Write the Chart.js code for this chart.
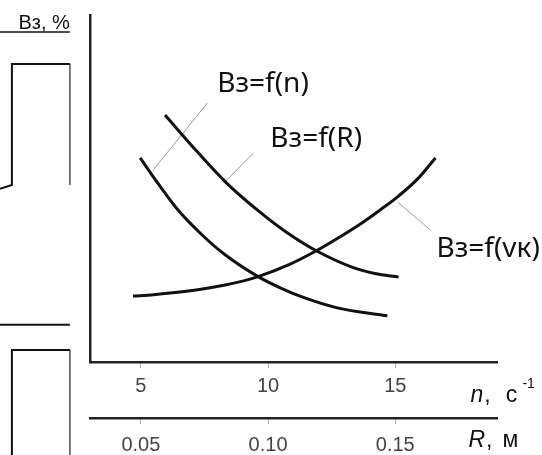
<!DOCTYPE html>
<html lang="ru">
<head>
<meta charset="UTF-8">
<title>Вз = f(n), f(R), f(vк)</title>
<script src="https://cdn.jsdelivr.net/npm/chart.js"></script>
<style>
  html, body { margin: 0; padding: 0; background: #fff; }
</style>
</head>
<body>
<canvas id="myChart" width="542" height="455"></canvas>
<script>
// ось n, с^-1 и ось R, м (R = n / 100, шкалы совпадают)
const nTicks = [5, 10, 15];
const rTicks = [0.05, 0.10, 0.15];

// Вз, % (условные единицы 0..100)
// Вз = f(n)
const curveN_n = [4.97, 5.68, 6.46, 7.41, 8.31, 9.61, 10.50, 11.39, 12.72, 14.69];
const curveN_b = [58.8, 51.4, 43.8, 36.6, 30.9, 24.6, 21.3, 18.6, 15.6, 13.3];
// Вз = f(R), R в метрах
const curveR_r = [0.0595, 0.0702, 0.0831, 0.0961, 0.1068, 0.1186, 0.1335, 0.1420, 0.1513];
const curveR_b = [71.2, 62.2, 52.0, 43.6, 37.6, 32.2, 27.2, 25.5, 24.5];
// Вз = f(vк)
const curveV_n = [4.69, 5.5, 6.35, 7.3, 8.31, 9.0, 9.61, 10.87, 11.86, 12.72, 13.63, 14.42, 15.09, 15.87, 16.58];
const curveV_b = [19.0, 19.4, 20.0, 20.9, 22.2, 23.3, 24.6, 28.2, 31.9, 35.6, 39.8, 43.9, 47.6, 52.7, 58.8];

// выноски к подписям: [n, Вз] начало и конец
const leaderN = [[7.61, 74.6], [5.48, 55.3]];
const leaderR = [[9.42, 60.2], [8.31, 51.9]];
const leaderV = [[15.09, 46.1], [16.39, 38.0]];

// кусок соседнего рисунка слева (обрезан краем)
const nbRect1 = [[2.21, 85.9], [-0.07, 85.9], [-0.07, 51.0], [-0.54, 49.9]];
const nbRect1Side = [[2.21, 85.9], [2.21, 51.0]];
const nbLine = [[2.21, 10.7], [-0.54, 10.7]];
const nbRect2 = [[2.21, 3.46], [-0.07, 3.46], [-0.07, -28.2]];
const nbRect2Side = [[2.21, 3.46], [2.21, -28.2]];
const nbUnderline = [[2.21, 95.1], [-0.54, 95.1]];

// подписи кривых: текст, n, Вз (базовая линия)
const curveLabels = [
  ['Вз=f(n)', 8.0, 77.8],
  ['Вз=f(R)', 10.09, 62.0],
  ['Вз=f(vк)', 16.62, 30.3]
];

function pts(xs, ys) {
  return xs.map((x, i) => ({ x: x, y: ys[i] }));
}
function pairs(arr) {
  return arr.map(p => ({ x: p[0], y: p[1] }));
}

function curve(data, axis) {
  return {
    data: data, xAxisID: axis,
    borderColor: '#111', borderWidth: 3,
    pointRadius: 0, fill: false,
    cubicInterpolationMode: 'monotone'
  };
}
function thin(data, color, width) {
  return {
    data: data, xAxisID: 'x',
    borderColor: color, borderWidth: width,
    pointRadius: 0, fill: false, tension: 0, clip: false
  };
}

// подписи рисуем от шкал
const textPlugin = {
  id: 'texts',
  afterDatasetsDraw(chart) {
    const c = chart.ctx;
    const sx = chart.scales.x, sy = chart.scales.y;
    const px = v => sx.getPixelForValue(v);
    const py = v => sy.getPixelForValue(v);
    c.save();
    c.fillStyle = '#111';
    c.textBaseline = 'alphabetic';
    c.textAlign = 'left';
    c.font = '28px "Noto Sans"';
    curveLabels.forEach(l => c.fillText(l[0], px(l[1]), py(l[2])));

    // n, с^-1
    c.font = 'italic 23px "Liberation Sans"';
    let x = px(17.96), y = py(-11.5);
    c.fillText('n', x, y);
    x += c.measureText('n').width;
    c.font = '23px "Liberation Sans"';
    c.fillText(',', x + 1, y);
    c.fillText('с', px(19.34), y);
    c.font = '14px "Liberation Sans"';
    c.fillText('-1', px(20.0), py(-7.5));

    // R, м
    c.font = 'italic 23px "Liberation Sans"';
    x = px(17.88); y = py(-24.5);
    c.fillText('R', x, y);
    x += c.measureText('R').width;
    c.font = '23px "Liberation Sans"';
    c.fillText(',', x + 1, y);
    c.fillText('м', px(19.22), y);

    // подпись соседнего рисунка
    c.font = '20px "Liberation Sans"';
    c.textAlign = 'right';
    c.fillText('Вз, %', px(2.21), py(96.0));
    c.restore();
  }
};

const ctx = document.getElementById('myChart');
const mychart = new Chart(ctx, {
  type: 'line',
  data: {
    datasets: [
      curve(pts(curveN_n, curveN_b), 'x'),
      curve(pts(curveR_r, curveR_b), 'xR'),
      curve(pts(curveV_n, curveV_b), 'x'),
      thin(pairs(leaderN), '#9a9a9a', 1),
      thin(pairs(leaderR), '#9a9a9a', 1),
      thin(pairs(leaderV), '#9a9a9a', 1),
      thin(pairs(nbRect1), '#111', 2),
      thin(pairs(nbRect1Side), '#666', 1),
      thin(pairs(nbLine), '#111', 2),
      thin(pairs(nbRect2), '#111', 2),
      thin(pairs(nbRect2Side), '#666', 1),
      thin(pairs(nbUnderline), '#111', 1.5)
    ]
  },
  options: {
    responsive: false,
    animation: false,
    events: [],
    layout: { padding: { left: 90, right: 45, top: 15, bottom: 0 } },
    plugins: { legend: { display: false }, tooltip: { enabled: false } },
    scales: {
      x: {
        type: 'linear', axis: 'x', position: 'bottom', weight: 0,
        min: 3, max: 19,
        afterBuildTicks: s => { s.ticks = nTicks.map(v => ({ value: v })); },
        afterFit: s => { s.height = 56; },
        border: { display: true, color: '#222', width: 2.5 },
        grid: { display: true, drawOnChartArea: false, drawTicks: true, tickLength: 6, color: '#aaa', lineWidth: 1 },
        ticks: { color: '#444', padding: 6, maxRotation: 0, font: { family: 'Liberation Sans', size: 20 } }
      },
      xR: {
        type: 'linear', axis: 'x', position: 'bottom', weight: 1,
        min: 0.03, max: 0.19,
        afterBuildTicks: s => { s.ticks = rTicks.map(v => ({ value: v })); },
        afterFit: s => { s.height = 37; },
        border: { display: true, color: '#222', width: 2.5 },
        grid: { display: true, drawOnChartArea: false, drawTicks: true, tickLength: 6, color: '#aaa', lineWidth: 1 },
        ticks: {
          color: '#444', padding: 9, maxRotation: 0,
          font: { family: 'Liberation Sans', size: 20 },
          callback: v => v.toFixed(2)
        }
      },
      y: {
        type: 'linear', axis: 'y', position: 'left',
        min: 0, max: 100,
        afterFit: s => { s.width = 0; },
        border: { display: true, color: '#222', width: 2.5 },
        grid: { display: false },
        ticks: { display: false }
      }
    }
  },
  plugins: [textPlugin]
});
</script>
</body>
</html>
